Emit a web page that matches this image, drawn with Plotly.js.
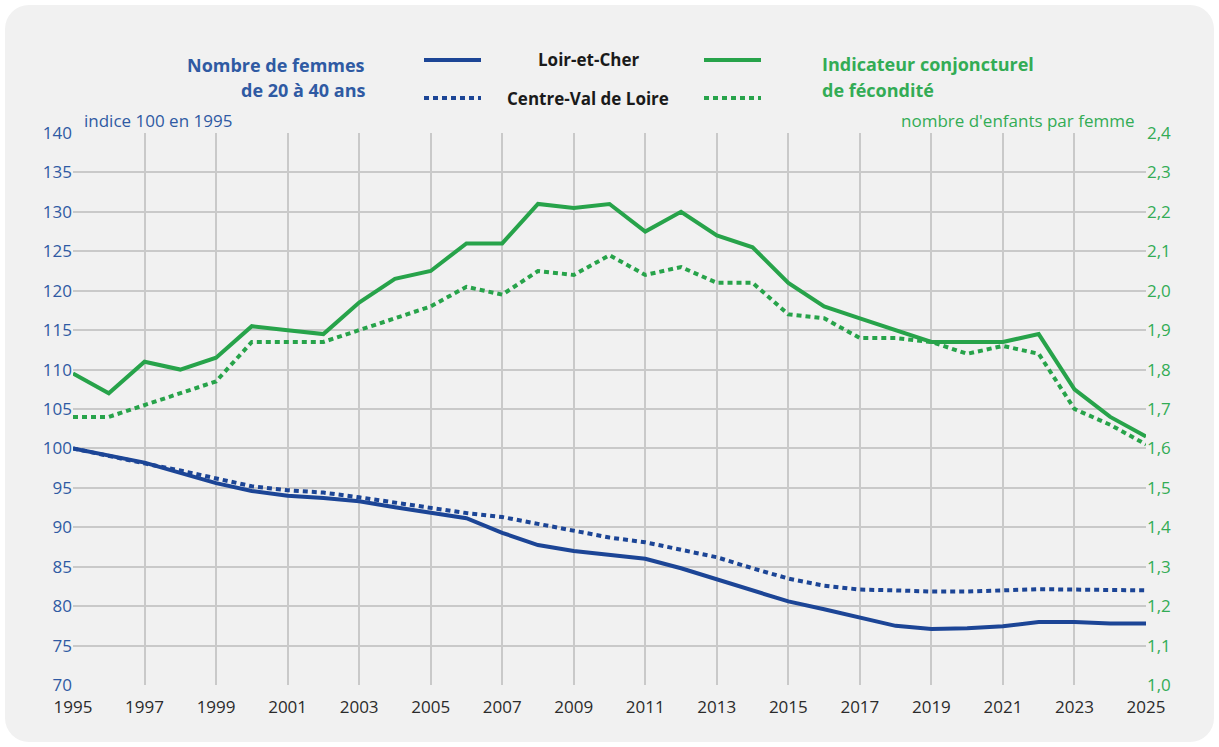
<!DOCTYPE html>
<html>
<head>
<meta charset="utf-8">
<script src="https://cdn.plot.ly/plotly-3.0.1.min.js"></script>
<style>
  html, body { margin: 0; padding: 0; background: #ffffff; }
  #card { position: absolute; left: 5px; top: 5px; width: 1209px; height: 737px; background: #f1f1f1; border-radius: 24px; }
  #chart { position: absolute; left: 0; top: 0; width: 1219px; height: 747px; }
</style>
</head>
<body>
<div id="card"></div>
<div id="chart"></div>
<script>
const years = [1995,1996,1997,1998,1999,2000,2001,2002,2003,2004,2005,2006,2007,2008,2009,2010,
               2011,2012,2013,2014,2015,2016,2017,2018,2019,2020,2021,2022,2023,2024,2025];

// Nombre de femmes de 20 à 40 ans (indice 100 en 1995)
const femmesLoirEtCher = [100,99.1,98.2,96.9,95.6,94.6,94.0,93.7,93.3,92.55,91.8,91.15,89.3,87.75,87.0,86.5,
                          86.0,84.8,83.4,82.0,80.6,79.6,78.6,77.5,77.1,77.2,77.45,78.0,78.0,77.8,77.8];
const femmesCentreVdL = [100,99.0,98.1,97.2,96.2,95.2,94.7,94.4,93.8,93.1,92.5,91.8,91.3,90.4,89.6,88.7,
                         88.1,87.2,86.2,84.8,83.5,82.6,82.1,82.0,81.85,81.85,82.0,82.15,82.1,82.0,82.0];

// Indicateur conjoncturel de fécondité (enfants par femme)
const icfLoirEtCher = [1.79,1.74,1.82,1.80,1.83,1.91,1.90,1.89,1.97,2.03,2.05,2.12,2.12,2.22,2.21,2.22,
                       2.15,2.20,2.14,2.11,2.02,1.96,1.93,1.90,1.87,1.87,1.87,1.89,1.75,1.68,1.63];
const icfCentreVdL = [1.68,1.68,1.71,1.74,1.77,1.87,1.87,1.87,1.90,1.93,1.96,2.01,1.99,2.05,2.04,2.09,
                      2.04,2.06,2.02,2.02,1.94,1.93,1.88,1.88,1.87,1.84,1.86,1.84,1.70,1.66,1.61];

const leftTicks = [70,75,80,85,90,95,100,105,110,115,120,125,130,135,140];
const rightTicks = [1.0,1.1,1.2,1.3,1.4,1.5,1.6,1.7,1.8,1.9,2.0,2.1,2.2,2.3,2.4];
const xTicks = [1995,1997,1999,2001,2003,2005,2007,2009,2011,2013,2015,2017,2019,2021,2023,2025];

const BLUE = '#1c4596';
const GREEN = '#27a34a';
const BLUE_TXT = '#2f5aa3';
const GREEN_TXT = '#33ac55';
const GRID = '#c9c9c9';
const DOT = '5px,4px';
const FONT = 'Open Sans, Noto Sans, sans-serif';

const traces = [
  {x: years, y: femmesLoirEtCher, type: 'scatter', mode: 'lines', name: 'Loir-et-Cher (femmes)',
   line: {color: BLUE, width: 4}, yaxis: 'y'},
  {x: years, y: femmesCentreVdL, type: 'scatter', mode: 'lines', name: 'Centre-Val de Loire (femmes)',
   line: {color: BLUE, width: 4, dash: DOT}, yaxis: 'y'},
  {x: years, y: icfLoirEtCher, type: 'scatter', mode: 'lines', name: 'Loir-et-Cher (ICF)',
   line: {color: GREEN, width: 4}, yaxis: 'y2'},
  {x: years, y: icfCentreVdL, type: 'scatter', mode: 'lines', name: 'Centre-Val de Loire (ICF)',
   line: {color: GREEN, width: 4, dash: DOT}, yaxis: 'y2'}
];

const px2x = p => (p - 73) / 1073;
const px2y = p => (685 - p) / 552;

const layout = {
  width: 1219, height: 747,
  margin: {l: 73, r: 73, t: 133, b: 62},
  paper_bgcolor: 'rgba(0,0,0,0)',
  plot_bgcolor: 'rgba(0,0,0,0)',
  separators: ', ',
  showlegend: false,
  hovermode: false,
  font: {family: FONT, size: 17},
  xaxis: {
    range: [1995, 2025], tickvals: xTicks, ticktext: xTicks.map(String),
    showgrid: true, gridcolor: GRID, gridwidth: 2, zeroline: false,
    showline: false, ticks: '', ticklabelstandoff: 10,
    tickfont: {color: '#2b2b2b', size: 17, family: FONT}
  },
  yaxis: {
    range: [70, 140], tickvals: leftTicks, ticktext: leftTicks.map(String),
    showgrid: true, gridcolor: GRID, gridwidth: 2, zeroline: false,
    showline: false, ticks: '', tickfont: {color: BLUE_TXT, size: 17, family: FONT}
  },
  yaxis2: {
    range: [1.0, 2.4], tickvals: rightTicks, ticktext: rightTicks.map(v => v.toFixed(1).replace('.', ',')),
    overlaying: 'y', side: 'right', showgrid: false, zeroline: false,
    showline: false, ticks: '', tickfont: {color: GREEN_TXT, size: 17, family: FONT}
  },
  shapes: [
    {type: 'line', xref: 'paper', yref: 'paper', x0: px2x(424), x1: px2x(481), y0: px2y(60), y1: px2y(60),
     line: {color: BLUE, width: 4}},
    {type: 'line', xref: 'paper', yref: 'paper', x0: px2x(424), x1: px2x(481), y0: px2y(98), y1: px2y(98),
     line: {color: BLUE, width: 4, dash: DOT}},
    {type: 'line', xref: 'paper', yref: 'paper', x0: px2x(704), x1: px2x(761), y0: px2y(60), y1: px2y(60),
     line: {color: GREEN, width: 4}},
    {type: 'line', xref: 'paper', yref: 'paper', x0: px2x(704), x1: px2x(761), y0: px2y(98), y1: px2y(98),
     line: {color: GREEN, width: 4, dash: DOT}}
  ],
  annotations: [
    {text: '<b>Nombre de femmes</b>', xref: 'paper', yref: 'paper', x: px2x(367), y: px2y(65),
     xanchor: 'right', yanchor: 'middle', showarrow: false, font: {color: BLUE_TXT, size: 18, family: FONT}},
    {text: '<b>de 20 à 40 ans</b>', xref: 'paper', yref: 'paper', x: px2x(367), y: px2y(90),
     xanchor: 'right', yanchor: 'middle', showarrow: false, font: {color: BLUE_TXT, size: 18, family: FONT}},
    {text: '<b>Loir-et-Cher</b>', xref: 'paper', yref: 'paper', x: px2x(588), y: px2y(59),
     xanchor: 'center', yanchor: 'middle', showarrow: false, font: {color: '#1a1a1a', size: 17, family: FONT}},
    {text: '<b>Centre-Val de Loire</b>', xref: 'paper', yref: 'paper', x: px2x(588), y: px2y(99),
     xanchor: 'center', yanchor: 'middle', showarrow: false, font: {color: '#1a1a1a', size: 17, family: FONT}},
    {text: '<b>Indicateur conjoncturel</b>', xref: 'paper', yref: 'paper', x: px2x(820), y: px2y(64),
     xanchor: 'left', yanchor: 'middle', showarrow: false, font: {color: GREEN_TXT, size: 18, family: FONT}},
    {text: '<b>de fécondité</b>', xref: 'paper', yref: 'paper', x: px2x(820), y: px2y(90),
     xanchor: 'left', yanchor: 'middle', showarrow: false, font: {color: GREEN_TXT, size: 18, family: FONT}},
    {text: 'indice 100 en 1995', xref: 'paper', yref: 'paper', x: px2x(82), y: px2y(121),
     xanchor: 'left', yanchor: 'middle', showarrow: false, font: {color: BLUE_TXT, size: 17, family: FONT}},
    {text: "nombre d'enfants par femme", xref: 'paper', yref: 'paper', x: px2x(1136), y: px2y(121),
     xanchor: 'right', yanchor: 'middle', showarrow: false, font: {color: GREEN_TXT, size: 17, family: FONT}}
  ]
};

Plotly.newPlot('chart', traces, layout, {staticPlot: true, displayModeBar: false});
</script>
</body>
</html>
